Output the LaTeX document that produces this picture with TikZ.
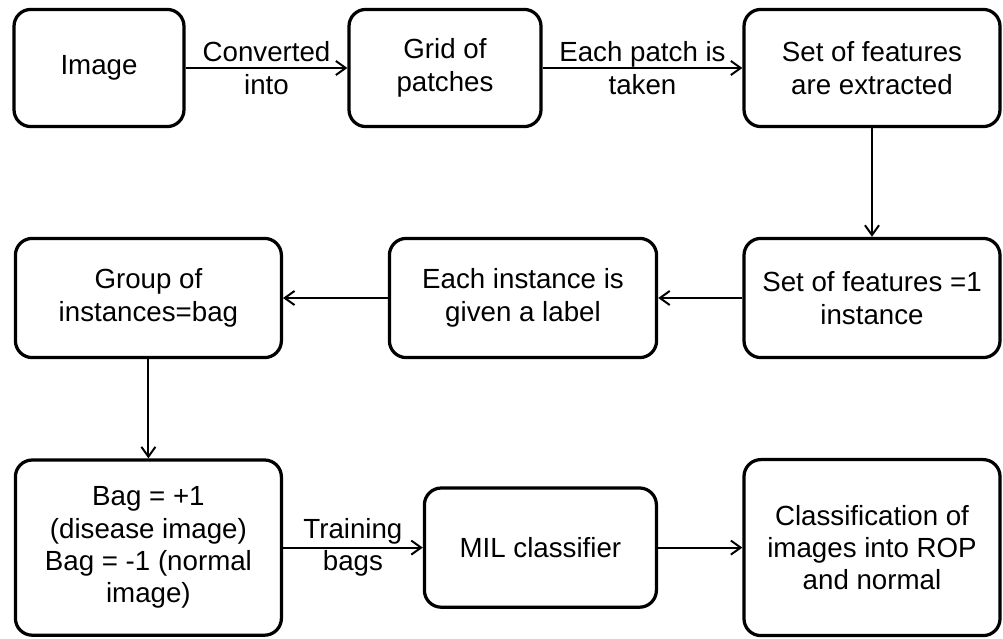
\documentclass[tikz,border=0pt]{standalone}
\usepackage{fontspec}
\setmainfont{Liberation Sans}
\usetikzlibrary{arrows.meta}
\tikzset{
stage/.style={draw,line width=2.3pt,rounded corners=12pt,align=center,inner sep=0pt,font=\fontsize{19.7}{23}\selectfont},
flow/.style={line width=1.4pt,-{Straight Barb[length=7pt,width=10pt]}},
note/.style={align=center,inner sep=1pt,font=\fontsize{19.7}{23}\selectfont}
}
\begin{document}
\begin{tikzpicture}
\useasboundingbox (0,0) rectangle (25.075,15.95);

\node[stage,minimum width=4.25cm,minimum height=2.93cm] (image) at (2.475,14.25) {Image}; %top
\node[stage,minimum width=4.8cm,minimum height=2.93cm] (grid) at (11.125,14.25) {Grid of\\patches};
\node[stage,minimum width=6.4cm,minimum height=2.93cm] (feat) at (21.8,14.25) {Set of features\\are extracted};

\node[stage,minimum width=6.65cm,minimum height=2.98cm] (group) at (3.71,8.5) {Group of\\instances=bag}; %middle
\node[stage,minimum width=6.68cm,minimum height=2.98cm] (label) at (13.075,8.5) {Each instance is\\given a label};
\node[stage,minimum width=6.4cm,minimum height=2.98cm] (inst) at (21.8,8.5) {Set of features =1\\instance};

\node[stage,minimum width=6.65cm,minimum height=4.38cm] (bag) at (3.71,2.26) {Bag = +1\\(disease image)\\Bag = -1 (normal\\image)}; %bottom
\node[stage,minimum width=5.8cm,minimum height=2.98cm] (mil) at (13.51,2.26) {MIL classifier};
\node[stage,minimum width=6.4cm,minimum height=4.4cm] (cls) at (21.8,2.26) {Classification of\\images into ROP\\and normal};

\draw[flow] (image) -- node[note] {Converted\\into} (grid);
\draw[flow] (grid) -- node[note] {Each patch is\\taken} (feat);
\draw[flow] (feat) -- (inst);
\draw[flow] (inst) -- (label);
\draw[flow] (label) -- (group);
\draw[flow] (group) -- (bag);
\draw[flow] (bag) -- node[note] {Training\\bags} (mil);
\draw[flow] (mil) -- (cls);

\end{tikzpicture}
\end{document}
